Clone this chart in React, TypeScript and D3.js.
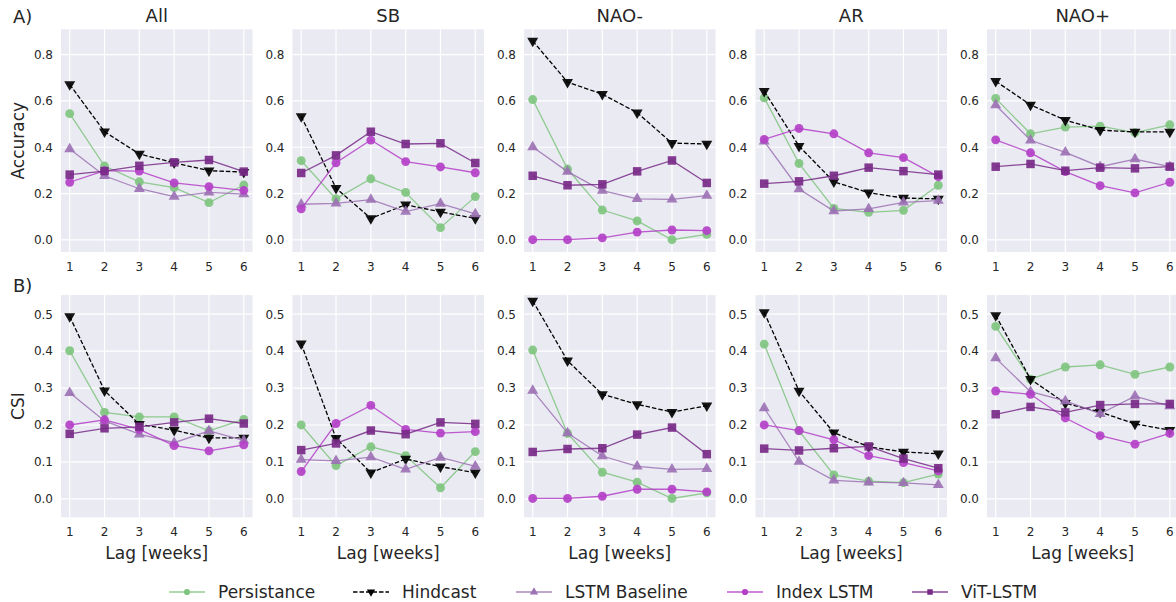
import React, { useEffect, useRef } from 'react';
import * as d3 from 'd3';

// lag in weeks
const lags = [1, 2, 3, 4, 5, 6];
const regimes = ['All', 'SB', 'NAO-', 'AR', 'NAO+'];
const seriesNames = ['Persistance', 'Hindcast', 'LSTM Baseline', 'Index LSTM', 'ViT-LSTM'];
const accTicks = [0.0, 0.2, 0.4, 0.6, 0.8];
const csiTicks = [0.0, 0.1, 0.2, 0.3, 0.4, 0.5];

// accuracy, one row per regime (All, SB, NAO-, AR, NAO+)
const accPersistance = [
  [0.545, 0.319, 0.251, 0.226, 0.161, 0.237],
  [0.342, 0.177, 0.264, 0.205, 0.053, 0.187],
  [0.606, 0.306, 0.129, 0.082, 0.001, 0.024],
  [0.613, 0.330, 0.136, 0.119, 0.128, 0.236],
  [0.611, 0.458, 0.487, 0.491, 0.463, 0.497],
];
const accHindcast = [
  [0.671, 0.467, 0.371, 0.333, 0.299, 0.293],
  [0.533, 0.223, 0.093, 0.152, 0.121, 0.093],
  [0.859, 0.681, 0.629, 0.549, 0.418, 0.414],
  [0.642, 0.405, 0.251, 0.204, 0.181, 0.177],
  [0.685, 0.583, 0.517, 0.474, 0.466, 0.466],
];
const accLstm = [
  [0.392, 0.277, 0.221, 0.187, 0.205, 0.198],
  [0.154, 0.158, 0.174, 0.122, 0.157, 0.112],
  [0.401, 0.295, 0.213, 0.177, 0.175, 0.191],
  [0.425, 0.220, 0.125, 0.134, 0.162, 0.170],
  [0.582, 0.430, 0.378, 0.316, 0.349, 0.316],
];
const accIndex = [
  [0.249, 0.299, 0.297, 0.246, 0.230, 0.214],
  [0.134, 0.333, 0.431, 0.338, 0.315, 0.290],
  [0.001, 0.001, 0.009, 0.034, 0.043, 0.040],
  [0.434, 0.481, 0.458, 0.376, 0.355, 0.273],
  [0.432, 0.376, 0.295, 0.234, 0.203, 0.249],
];
const accVit = [
  [0.282, 0.297, 0.320, 0.335, 0.345, 0.295],
  [0.289, 0.365, 0.467, 0.414, 0.417, 0.332],
  [0.277, 0.236, 0.240, 0.296, 0.343, 0.246],
  [0.243, 0.253, 0.277, 0.312, 0.297, 0.282],
  [0.316, 0.328, 0.299, 0.312, 0.309, 0.316],
];

// CSI
const csiPersistance = [
  [0.401, 0.234, 0.222, 0.222, 0.184, 0.215],
  [0.200, 0.090, 0.141, 0.117, 0.030, 0.128],
  [0.403, 0.177, 0.072, 0.045, 0.001, 0.016],
  [0.419, 0.184, 0.065, 0.048, 0.044, 0.067],
  [0.467, 0.324, 0.357, 0.363, 0.337, 0.357],
];
const csiHindcast = [
  [0.494, 0.293, 0.202, 0.186, 0.165, 0.165],
  [0.420, 0.164, 0.071, 0.108, 0.087, 0.071],
  [0.536, 0.374, 0.283, 0.256, 0.235, 0.252],
  [0.505, 0.292, 0.179, 0.141, 0.127, 0.122],
  [0.497, 0.324, 0.259, 0.235, 0.203, 0.186],
];
const csiLstm = [
  [0.287, 0.211, 0.175, 0.152, 0.184, 0.158],
  [0.106, 0.103, 0.113, 0.080, 0.112, 0.088],
  [0.293, 0.178, 0.116, 0.088, 0.080, 0.081],
  [0.246, 0.101, 0.050, 0.045, 0.043, 0.038],
  [0.381, 0.290, 0.265, 0.230, 0.278, 0.251],
];
const csiIndex = [
  [0.200, 0.214, 0.188, 0.144, 0.130, 0.146],
  [0.074, 0.204, 0.253, 0.188, 0.178, 0.182],
  [0.001, 0.001, 0.007, 0.026, 0.026, 0.019],
  [0.200, 0.185, 0.160, 0.117, 0.098, 0.076],
  [0.292, 0.283, 0.219, 0.171, 0.148, 0.177],
];
const csiVit = [
  [0.176, 0.191, 0.195, 0.207, 0.217, 0.204],
  [0.132, 0.150, 0.185, 0.175, 0.207, 0.203],
  [0.127, 0.135, 0.137, 0.174, 0.193, 0.121],
  [0.136, 0.131, 0.137, 0.142, 0.109, 0.083],
  [0.229, 0.249, 0.234, 0.254, 0.257, 0.257],
];

const styles = [
  { color: '#7fc47f', marker: 'circle', dash: null },
  { color: '#000000', marker: 'tri-down', dash: '4.5,2' },
  { color: '#9c72b4', marker: 'tri-up', dash: null },
  { color: '#b440c8', marker: 'circle', dash: null },
  { color: '#782a88', marker: 'square', dash: null },
];

const FONT = 'DejaVu Sans, sans-serif';
const TXT = '#262626';

const markerSym = (m: string) => {
  if (m === 'square') return d3.symbol(d3.symbolSquare, 72);
  if (m === 'circle') return d3.symbol(d3.symbolCircle, 62);
  return d3.symbol(d3.symbolTriangle, 52);
};

const App = () => {
  const svgRef = useRef<SVGSVGElement>(null);

  useEffect(() => {
    document.body.style.margin = '0';
    const W = 1176;
    const H = 602;
    const svg = d3.select(svgRef.current).attr('width', W).attr('height', H);
    svg.selectAll('*').remove();
    svg.append('rect').attr('width', W).attr('height', H).attr('fill', '#fff');

    const pw = 191.5;
    const rows = [
      { top: 29.3, bottom: 252, domain: [-0.052, 0.909], ticks: accTicks, data: [accPersistance, accHindcast, accLstm, accIndex, accVit], label: 'Accuracy', tag: 'A)', fmt: d3.format('.1f') },
      { top: 295, bottom: 517.3, domain: [-0.05, 0.552], ticks: csiTicks, data: [csiPersistance, csiHindcast, csiLstm, csiIndex, csiVit], label: 'CSI', tag: 'B)', fmt: d3.format('.1f') },
    ];

    rows.forEach((row, ri) => {
      const y = d3.scaleLinear().domain(row.domain).range([row.bottom, row.top]);
      regimes.forEach((reg, pi) => {
        const left = 61 + pi * 231.5;
        const x = d3.scaleLinear().domain([0.75, 6.25]).range([left, left + pw]);
        const g = svg.append('g');
        g.append('rect')
          .attr('x', left).attr('y', row.top)
          .attr('width', pw).attr('height', row.bottom - row.top)
          .attr('fill', '#eaeaf2');

        // grid
        g.selectAll('.gx').data(lags).join('line')
          .attr('x1', (d) => x(d)).attr('x2', (d) => x(d))
          .attr('y1', row.top).attr('y2', row.bottom)
          .attr('stroke', '#fff').attr('stroke-width', 1.2);
        g.selectAll('.gy').data(row.ticks).join('line')
          .attr('class', 'gy')
          .attr('x1', left).attr('x2', left + pw)
          .attr('y1', (d) => y(d)).attr('y2', (d) => y(d))
          .attr('stroke', '#fff').attr('stroke-width', 1.2);

        // tick labels
        g.selectAll('.xt').data(lags).join('text')
          .attr('class', 'xt')
          .attr('x', (d) => x(d)).attr('y', row.bottom + 19)
          .attr('text-anchor', 'middle')
          .style('font-family', FONT).style('font-size', '12px').attr('fill', TXT)
          .text((d) => d);
        g.selectAll('.yt').data(row.ticks).join('text')
          .attr('class', 'yt')
          .attr('x', left - 8).attr('y', (d) => y(d) + 4.3)
          .attr('text-anchor', 'end')
          .style('font-family', FONT).style('font-size', '12px').attr('fill', TXT)
          .text((d) => row.fmt(d));

        if (ri === 0) {
          g.append('text')
            .attr('x', left + pw / 2).attr('y', 22)
            .attr('text-anchor', 'middle')
            .style('font-family', FONT).style('font-size', '18px').attr('fill', TXT)
            .text(reg);
        } else {
          g.append('text')
            .attr('x', left + pw / 2).attr('y', 559)
            .attr('text-anchor', 'middle')
            .style('font-family', FONT).style('font-size', '17px').attr('fill', TXT)
            .text('Lag [weeks]');
        }

        // lines + markers
        seriesNames.forEach((name, si) => {
          const vals = row.data[si][pi];
          const st = styles[si];
          const pts = lags.map((l, k) => [l, vals[k]] as [number, number]);
          const line = d3.line<[number, number]>().x((d) => x(d[0])).y((d) => y(d[1]));
          g.append('path')
            .datum(pts)
            .attr('d', line)
            .attr('fill', 'none')
            .attr('stroke', st.color)
            .attr('stroke-opacity', si === 1 ? 1 : 0.85)
            .attr('stroke-width', 1.3)
            .attr('stroke-dasharray', st.dash);
          g.selectAll(null).data(pts).join('path')
            .attr('d', markerSym(st.marker))
            .attr('transform', (d) => `translate(${x(d[0])},${y(d[1])})${st.marker === 'tri-down' ? ' rotate(180)' : ''}`)
            .attr('fill', st.color)
            .attr('fill-opacity', 0.92);
        });
      });

      // row tag and y label
      svg.append('text')
        .attr('x', 13).attr('y', ri === 0 ? 23 : 292)
        .style('font-family', FONT).style('font-size', '18px').attr('fill', TXT)
        .text(row.tag);
      const cy = (row.top + row.bottom) / 2;
      svg.append('text')
        .attr('transform', `translate(24,${cy}) rotate(-90)`)
        .attr('text-anchor', 'middle')
        .style('font-family', FONT).style('font-size', '17px').attr('fill', TXT)
        .text(row.label);
    });

    // legend
    const legX = [169, 353, 516, 727, 912];
    const ly = 592;
    seriesNames.forEach((name, si) => {
      const st = styles[si];
      const lg = svg.append('g');
      lg.append('line')
        .attr('x1', legX[si]).attr('x2', legX[si] + 36)
        .attr('y1', ly).attr('y2', ly)
        .attr('stroke', st.color).attr('stroke-width', 1.3)
        .attr('stroke-opacity', si === 1 ? 1 : 0.85)
        .attr('stroke-dasharray', st.dash);
      lg.append('path')
        .attr('d', d3.symbol(st.marker === 'square' ? d3.symbolSquare : st.marker === 'circle' ? d3.symbolCircle : d3.symbolTriangle, 30))
        .attr('transform', `translate(${legX[si] + 18},${ly})${st.marker === 'tri-down' ? ' rotate(180)' : ''}`)
        .attr('fill', st.color);
      lg.append('text')
        .attr('x', legX[si] + 49).attr('y', ly + 6)
        .style('font-family', FONT).style('font-size', '17px').attr('fill', TXT)
        .text(name);
    });
  }, []);

  return <svg ref={svgRef} style={{ display: 'block' }}></svg>;
};

export default App;
